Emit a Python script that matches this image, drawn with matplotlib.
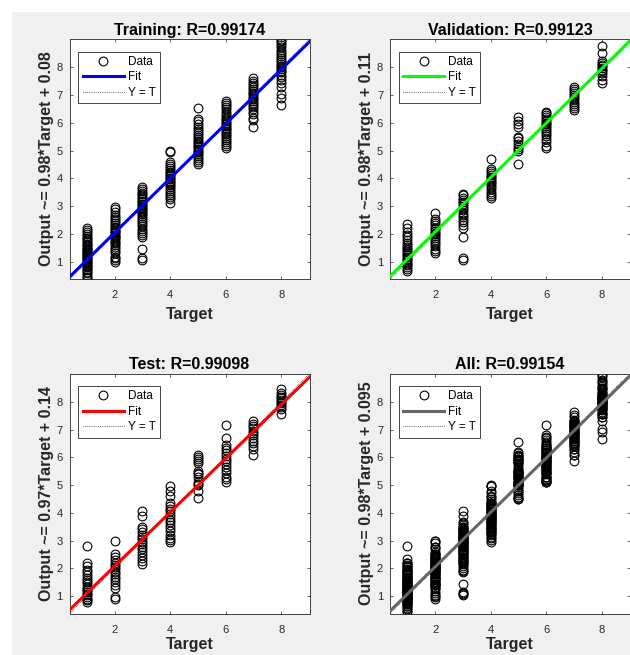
import numpy as np
import matplotlib
matplotlib.use("Agg")
import matplotlib.pyplot as plt
from matplotlib.patches import Rectangle

plt.rcParams["font.family"] = ["Liberation Sans", "DejaVu Sans"]

targets = [1, 2, 3, 4, 5, 6, 7, 8]

# outputs, per target (1..8)
train_out = [
    [0.42, 0.45, 0.52, 0.58, 0.63, 0.7, 0.74, 0.8, 0.85, 0.88, 0.93, 0.97, 1.0, 1.04, 1.08, 1.12, 1.15, 1.19,
     1.23, 1.27, 1.3, 1.34, 1.38, 1.42, 1.46, 1.5, 1.55, 1.6, 1.64, 1.7, 1.75, 1.8, 1.86, 1.92, 1.98, 2.05, 2.12, 2.2],
    [1.0, 1.05, 1.12, 1.18, 1.3, 1.38, 1.45, 1.52, 1.6, 1.66, 1.72, 1.78, 1.83, 1.88, 1.93, 1.97, 2.02, 2.06,
     2.1, 2.15, 2.2, 2.26, 2.32, 2.38, 2.45, 2.52, 2.6, 2.68, 2.78, 2.9, 2.97],
    [1.07, 1.13, 1.45, 1.88, 1.95, 2.02, 2.1, 2.18, 2.27, 2.35, 2.42, 2.5, 2.57, 2.63, 2.7, 2.76, 2.82, 2.88,
     2.93, 2.98, 3.03, 3.08, 3.13, 3.18, 3.24, 3.3, 3.36, 3.42, 3.48, 3.55, 3.62, 3.68],
    [3.12, 3.25, 3.32, 3.4, 3.47, 3.55, 3.62, 3.68, 3.74, 3.8, 3.86, 3.92, 3.97, 4.02, 4.07, 4.12, 4.18, 4.24,
     4.3, 4.37, 4.44, 4.5, 4.57, 4.95, 5.0],
    [4.5, 4.58, 4.65, 4.72, 4.8, 4.87, 4.94, 5.0, 5.06, 5.12, 5.18, 5.24, 5.3, 5.36, 5.42, 5.48, 5.55, 5.62,
     5.7, 5.78, 5.86, 5.95, 6.05, 6.15, 6.55],
    [5.1, 5.15, 5.22, 5.3, 5.38, 5.45, 5.52, 5.58, 5.64, 5.7, 5.76, 5.82, 5.88, 5.94, 6.0, 6.06, 6.12, 6.18,
     6.25, 6.32, 6.4, 6.48, 6.56, 6.64, 6.72, 6.8],
    [5.85, 6.1, 6.18, 6.3, 6.4, 6.5, 6.58, 6.65, 6.72, 6.78, 6.84, 6.9, 6.96, 7.02, 7.08, 7.14, 7.2, 7.28,
     7.36, 7.45, 7.52, 7.62],
    [6.65, 6.9, 7.02, 7.3, 7.45, 7.55, 7.65, 7.74, 7.82, 7.88, 7.94, 8.0, 8.06, 8.12, 8.18, 8.25, 8.32, 8.4,
     8.48, 8.56, 8.64, 8.72, 8.8, 8.88, 8.95, 9.0],
]
val_out = [
    [0.65, 0.72, 0.8, 0.86, 0.92, 0.98, 1.04, 1.1, 1.16, 1.22, 1.28, 1.34, 1.4, 1.46, 1.53, 1.6, 1.68, 1.78,
     1.88, 1.95, 2.05, 2.2, 2.35],
    [1.3, 1.38, 1.45, 1.55, 1.62, 1.7, 1.78, 1.85, 1.92, 1.98, 2.04, 2.1, 2.16, 2.22, 2.3, 2.38, 2.45, 2.52, 2.75],
    [1.05, 1.12, 1.9, 2.2, 2.3, 2.42, 2.5, 2.6, 2.68, 2.76, 2.84, 2.92, 3.0, 3.08, 3.15, 3.22, 3.3, 3.38, 3.45],
    [3.28, 3.35, 3.42, 3.5, 3.6, 3.68, 3.75, 3.82, 3.88, 3.94, 4.0, 4.06, 4.12, 4.2, 4.28, 4.35, 4.7],
    [4.5, 5.0, 5.05, 5.12, 5.25, 5.35, 5.45, 5.5, 5.85, 5.95, 6.05, 6.2],
    [5.1, 5.18, 5.3, 5.42, 5.52, 5.6, 5.68, 5.75, 5.82, 5.88, 5.94, 6.0, 6.06, 6.12, 6.2, 6.28, 6.35, 6.4],
    [6.45, 6.52, 6.6, 6.68, 6.76, 6.84, 6.92, 7.0, 7.08, 7.15, 7.22, 7.3],
    [7.45, 7.55, 7.7, 7.78, 7.85, 7.92, 7.98, 8.04, 8.1, 8.16, 8.22, 8.5, 8.75],
]
test_out = [
    [0.8, 0.85, 0.9, 0.96, 1.02, 1.08, 1.14, 1.2, 1.27, 1.34, 1.42, 1.5, 1.58, 1.66, 1.75, 1.85, 1.92, 2.1, 2.2, 2.8],
    [0.9, 0.98, 1.3, 1.4, 1.5, 1.6, 1.7, 1.8, 1.88, 1.96, 2.04, 2.12, 2.2, 2.3, 2.4, 2.5, 3.0],
    [2.15, 2.25, 2.38, 2.48, 2.58, 2.68, 2.78, 2.88, 2.96, 3.04, 3.12, 3.2, 3.3, 3.4, 3.5, 3.9, 4.05],
    [2.95, 3.02, 3.1, 3.2, 3.35, 3.45, 3.55, 3.65, 3.75, 3.85, 3.95, 4.05, 4.15, 4.25, 4.35, 4.6, 4.8, 4.95],
    [4.55, 4.8, 5.0, 5.05, 5.1, 5.3, 5.38, 5.45, 5.5, 5.8, 5.88, 5.95, 6.02, 6.1],
    [5.1, 5.2, 5.3, 5.42, 5.55, 5.65, 5.75, 5.85, 5.95, 6.05, 6.15, 6.25, 6.35, 6.45, 6.7, 7.15],
    [6.1, 6.3, 6.4, 6.5, 6.6, 6.7, 6.8, 6.88, 6.96, 7.04, 7.12, 7.2, 7.3],
    [7.55, 7.75, 7.82, 7.88, 7.94, 8.0, 8.06, 8.12, 8.18, 8.25, 8.32, 8.45],
]
all_out = [a + b + c for a, b, c in zip(train_out, val_out, test_out)]

titles = ["Training: R=0.99174", "Validation: R=0.99123", "Test: R=0.99098", "All: R=0.99154"]
slopes = [0.98, 0.98, 0.97, 0.98]
offsets = [0.08, 0.11, 0.14, 0.095]
offset_txt = ["0.08", "0.11", "0.14", "0.095"]
fit_colors = [(0, 0, 1), (0, 1, 0), (1, 0, 0), (0.4, 0.4, 0.4)]
panel_data = [train_out, val_out, test_out, all_out]

lim = (0.37, 9.02)
W, H = 630, 655
boxes = [(69.5, 39), (390, 39), (69.5, 373.5), (390, 373.5)]
aw, ah = 240, 240
axcol = (0.15, 0.15, 0.15)

fig = plt.figure(figsize=(W / 100, H / 100), dpi=100, facecolor="white")
fig.patches.append(Rectangle((12 / W, 0), 1, 1 - 12 / H, transform=fig.transFigure,
                             facecolor="#f0f0f0", edgecolor="none", zorder=-10))

for k in range(4):
    x0, y0 = boxes[k]
    ax = fig.add_axes([x0 / W, 1 - (y0 + ah) / H, aw / W, ah / H])
    ax.set_facecolor("white")
    xs, ys = [], []
    for t, vals in zip(targets, panel_data[k]):
        xs += [t] * len(vals)
        ys += vals
    ax.plot(xs, ys, "o", mfc="none", mec="black", ms=6.3, mew=0.8, label="Data", zorder=2)
    xl = np.array(lim)
    ax.plot(xl, slopes[k] * xl + offsets[k], color=fit_colors[k], lw=2.2, label="Fit", zorder=3)
    ax.plot(xl, xl, ":", color="black", lw=0.5, label="Y = T", zorder=2.5)
    ax.set_xlim(lim)
    ax.set_ylim(lim)
    ax.set_xticks([2, 4, 6, 8])
    ax.set_yticks([1, 2, 3, 4, 5, 6, 7, 8])
    ax.tick_params(direction="in", length=2, width=0.5, colors=axcol, labelsize=8,
                   top=True, right=True)
    ax.tick_params(axis="x", pad=8)
    ax.tick_params(axis="y", pad=5)
    for sp in ax.spines.values():
        sp.set_color(axcol)
        sp.set_linewidth(0.6)
    ax.set_title(titles[k], fontsize=11.5, fontweight="bold", pad=3)
    # bottom row label sits right at the lower edge, keep it just inside
    ax.set_xlabel("Target", fontsize=11.5, fontweight="bold", color=axcol,
                  labelpad=5 if k < 2 else 2)
    ax.set_ylabel(f"Output ~= {slopes[k]:.2f}*Target + {offset_txt[k]}", fontsize=11.5,
                  fontweight="bold", color=axcol, labelpad=2)
    leg = ax.legend(loc="upper left", bbox_to_anchor=(0.037, 0.947), borderaxespad=0, numpoints=1,
                    fontsize=8.5, handlelength=3.5, handletextpad=0.35, labelspacing=0.3,
                    borderpad=0.35, fancybox=False, framealpha=1)
    leg.get_frame().set_edgecolor(axcol)
    leg.get_frame().set_linewidth(0.6)

fig.savefig("out.png", dpi=100, facecolor=fig.get_facecolor())
